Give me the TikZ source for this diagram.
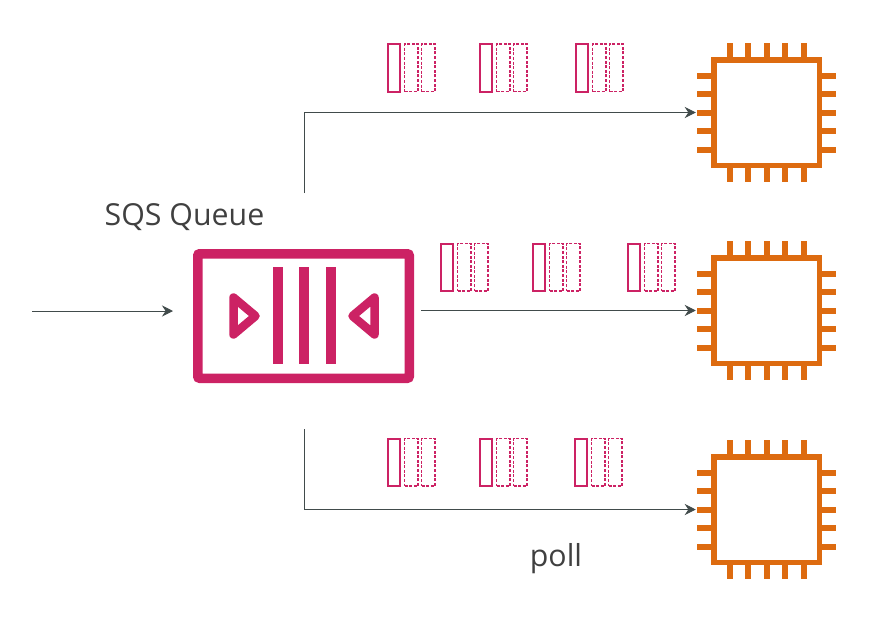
\documentclass[tikz,border=0pt]{standalone}
\usepackage{fontspec}
\setmainfont{Open Sans}
\usetikzlibrary{arrows.meta,positioning,calc}
\definecolor{qPink}{HTML}{CC2264}
\definecolor{cpuOrange}{HTML}{DD6B10}
\definecolor{lineGrey}{HTML}{414B4B}
\definecolor{textGrey}{HTML}{404040}
\tikzset{
  >=Stealth,
  box/.style={draw, inner sep=0pt, outer sep=0pt},
  arrow/.style={-{Stealth[length=11pt,width=11pt]}, line width=0.9pt, draw=lineGrey}
}

\begin{document}
\begin{tikzpicture}[
  x=1pt, y=-1pt,
  queue/.style={box, draw=qPink, line width=9.5pt, rounded corners=2pt, minimum width=211.5pt, minimum height=124.5pt},
  bar/.style={fill=qPink, draw=none, inner sep=0pt, minimum width=10pt, minimum height=97pt},
  tri/.style={draw=qPink, line width=8.5pt, line join=round},
  cpu/.style={box, draw=cpuOrange, line width=5.5pt, minimum width=105.5pt, minimum height=105.5pt},
  pin/.style={draw=cpuOrange, line width=6pt},
  msgfull/.style={box, draw=qPink, line width=2pt, minimum width=12pt, minimum height=47.5pt, anchor=north west},
  msgdash/.style={box, draw=qPink, line width=1.9pt, dash pattern=on 3pt off 1.6pt, minimum width=13.5pt, minimum height=47.5pt, anchor=north west},
  label/.style={font=\fontsize{30.3}{35}\selectfont, text=textGrey, inner sep=0pt}
]
\useasboundingbox (0,0) rectangle (883,621);

% Queue icon
\node[queue] (queue) at (303.5,316) {};
\foreach \n/\x in {barA/277.5, barB/304, barC/330.5}{
  \node[bar] (\n) at (\x,315.5) {};
}
\draw[tri] (233.5,297.5) -- (255.5,316) -- (233.5,334.5) -- cycle;
\draw[tri] (374.5,297.5) -- (352.5,316) -- (374.5,334.5) -- cycle;

% Three consumers with their pins
\foreach \n/\y in {cpuA/112.5, cpuB/310.5, cpuC/509.5}{
  \node[cpu] (\n) at (766.5,\y) {};
  \foreach \d in {-37,-18.5,0,18.5,37}{
    \draw[pin] ([xshift=\d pt]\n.north) -- ++(0,-17);
    \draw[pin] ([xshift=\d pt]\n.south) -- ++(0,17);
    \draw[pin] ([yshift=\d pt]\n.west) -- ++(-17,0);
    \draw[pin] ([yshift=\d pt]\n.east) -- ++(17,0);
  }
}

% Messages above each arrow
\foreach \g/\x/\y in {a/388/44, b/480/44, c/576/44, d/441/243.5, e/533/243.5, f/628/243.5, g/388/438.5, h/480/438.5, i/575/438.5}{
  \node[msgfull] (m\g) at (\x,\y) {};
  \node[msgdash] (p\g) at (\x+16.5,\y) {};
  \node[msgdash] (q\g) at (\x+33.5,\y) {};
}

% Free ends of the connectors
\coordinate (start) at (32,311);
\coordinate (startEnd) at (173,311);
\coordinate (topStart) at (304,193);
\coordinate (midStart) at (421,310.5);
\coordinate (lowStart) at (304,429);

% Connectors
\draw[arrow] (start) -- (startEnd);
\draw[arrow, shorten >=18pt] (topStart) |- (cpuA.west);
\draw[arrow, shorten >=18pt] (midStart) -- (cpuB.west);
\draw[arrow, shorten >=18pt] (lowStart) |- (cpuC.west);

% Labels
\node[label] (queueLabel) at (184.5,217) {SQS Queue};
\node[label] (pollLabel) at (556,558.5) {poll};
\end{tikzpicture}
\end{document}
